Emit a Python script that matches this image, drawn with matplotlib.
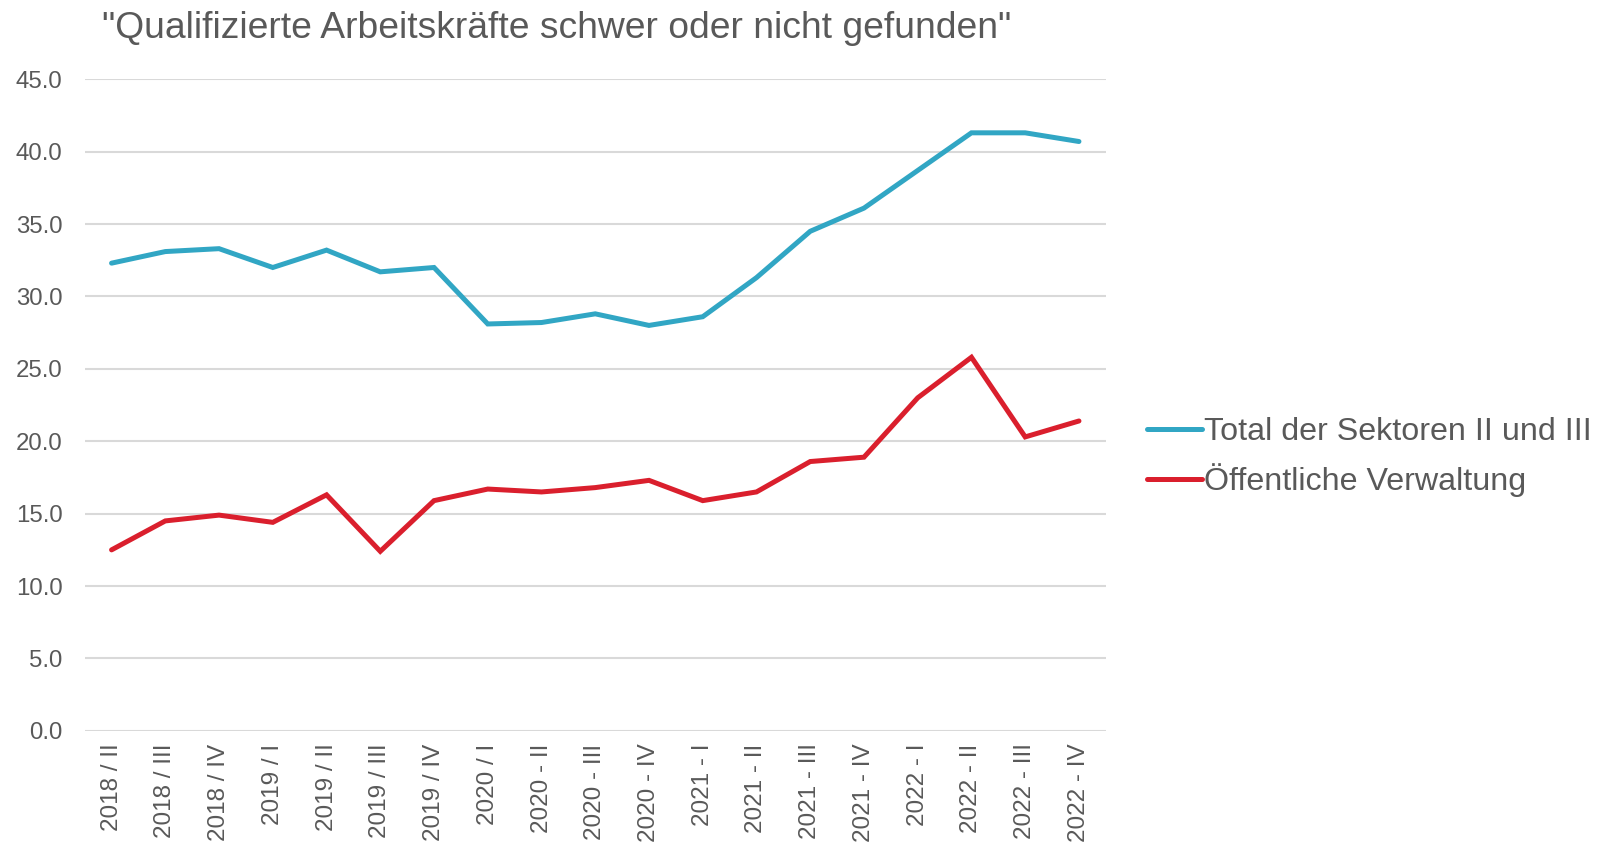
import numpy as np
import matplotlib
matplotlib.use("Agg")
from matplotlib import pyplot as plt

# Daten
quartale = ["2018 / II", "2018 / III", "2018 / IV", "2019 / I", "2019 / II", "2019 / III",
            "2019 / IV", "2020 / I", "2020 - II", "2020 - III", "2020 - IV", "2021 - I",
            "2021 - II", "2021 - III", "2021 - IV", "2022 - I", "2022 - II", "2022 - III",
            "2022 - IV"]
total_sektoren = [32.3, 33.1, 33.3, 32.0, 33.2, 31.7, 32.0, 28.1, 28.2, 28.8, 28.0, 28.6,
                  31.3, 34.5, 36.1, 38.7, 41.3, 41.3, 40.7]
oeff_verwaltung = [12.5, 14.5, 14.9, 14.4, 16.3, 12.4, 15.9, 16.7, 16.5, 16.8, 17.3, 15.9,
                   16.5, 18.6, 18.9, 23.0, 25.8, 20.3, 21.4]
yticks = np.arange(0, 46, 5)

plt.rcParams['font.family'] = ['Liberation Sans', 'DejaVu Sans']
grau = '#595959'

fig = plt.figure(figsize=(15.98, 8.43), dpi=100)
ax = fig.add_axes([0.053, 0.133, 0.639, 0.773])

x = np.arange(len(quartale))
ax.plot(x, total_sektoren, color='#31A6C4', lw=3.6, solid_capstyle='round',
        solid_joinstyle='miter', label='Total der Sektoren II und III')
ax.plot(x, oeff_verwaltung, color='#DA1F2D', lw=3.6, solid_capstyle='round',
        solid_joinstyle='miter', label='Öffentliche Verwaltung')

ax.set_xlim(-0.5, len(quartale) - 0.5)
ax.set_ylim(0, 45)
ax.set_yticks(yticks)
ax.set_yticklabels([f"{v:.1f}" for v in yticks])
ax.set_xticks(x)
ax.set_xticklabels(quartale, rotation=90)
ax.tick_params(axis='y', length=0, pad=16, labelsize=17.3, labelcolor=grau)
ax.tick_params(axis='x', length=0, pad=9, labelsize=17.5, labelcolor=grau)
ax.grid(axis='y', color='#D9D9D9', lw=1.5)
ax.set_axisbelow(True)
for s in ax.spines.values():
    s.set_visible(False)

leg = ax.legend(loc='center left', bbox_to_anchor=(1.04, 0.42), frameon=False,
                fontsize=23.2, handlelength=1.72, handletextpad=0.05,
                borderaxespad=0, borderpad=0, labelspacing=0.5)
for t in leg.get_texts():
    t.set_color(grau)

fig.text(0.064, 0.966, '"Qualifizierte Arbeitskräfte schwer oder nicht gefunden"',
         fontsize=26.8, color=grau, ha='left', va='center')

fig.savefig('out.png', dpi=100)
